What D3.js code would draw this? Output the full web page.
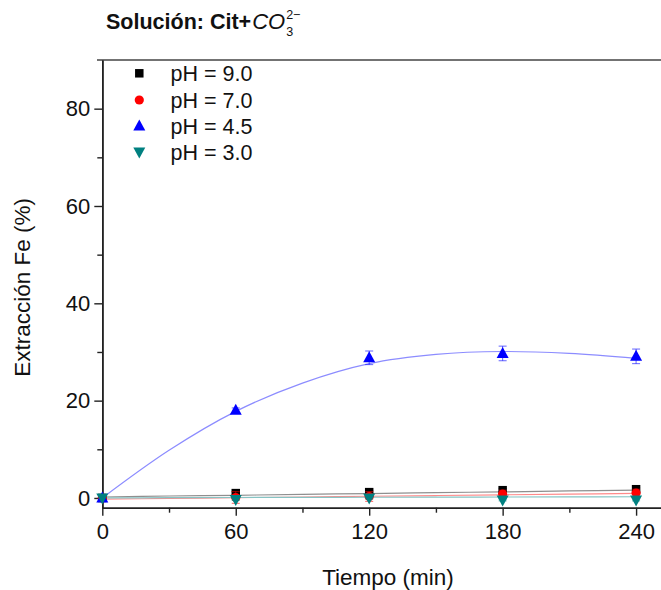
<!DOCTYPE html>
<html>
<head>
<meta charset="utf-8">
<script src="https://cdn.jsdelivr.net/npm/d3@7"></script>
<style>
  html, body { margin: 0; padding: 0; background: #fff; }
  svg { display: block; }
  text { font-family: "Liberation Sans", Arial, sans-serif; }
</style>
</head>
<body>
<div id="chart"></div>
<script>
// ---------- data ----------
const times = [0, 60, 120, 180, 240];
const seriesNames = ["pH = 9.0", "pH = 7.0", "pH = 4.5", "pH = 3.0"];
const ph90 = [0, 1.0, 1.2, 1.6, 1.8];
const ph70 = [0, 0.1, 0.3, 0.8, 1.0];
const ph45 = [0, 18.0, 28.8, 29.7, 29.1];
const ph30 = [0, -0.3, 0.0, -0.4, -0.4];
const err90 = [0, 0.3, 0.3, 0.3, 0.3];
const err70 = [0, 1.2, 1.0, 0.8, 0.8];
const err45 = [0, 0.5, 1.4, 1.5, 1.5];
const err30 = [0, 0.2, 0.2, 0.2, 0.2];
// fitted curves
const fitTimes = [0, 30, 60, 90, 120, 150, 180, 210, 240];
const fit90 = [0.2, 0.4, 0.55, 0.75, 0.9, 1.1, 1.25, 1.45, 1.6];
const fit70 = [-0.25, -0.1, 0.05, 0.2, 0.35, 0.5, 0.65, 0.8, 0.95];
const fit45 = [0, 9.8, 17.8, 23.6, 27.6, 29.5, 30.1, 29.7, 28.7];
const fit30 = [0, 0.05, 0.1, 0.12, 0.15, 0.18, 0.2, 0.22, 0.25];
const xTicks = [0, 60, 120, 180, 240];
const xMinor = [30, 90, 150, 210];
const yTicks = [0, 20, 40, 60, 80];
const yMinor = [10, 30, 50, 70];

// ---------- layout ----------
const W = 661, H = 590;
const svg = d3.select("#chart").append("svg").attr("width", W).attr("height", H);

const x = d3.scaleLinear().domain([0, 251.2]).range([102.3, 661]);
const y = d3.scaleLinear().domain([-2, 90]).range([507.7, 60]);

const series = [
  {name: seriesNames[0], vals: ph90, err: err90, fit: fit90, color: "#000000", fitColor: "#8f8f8f", shape: "square"},
  {name: seriesNames[1], vals: ph70, err: err70, fit: fit70, color: "#ff0000", fitColor: "#ff8a8a", shape: "circle"},
  {name: seriesNames[2], vals: ph45, err: err45, fit: fit45, color: "#0000ff", fitColor: "#8c8cff", shape: "triUp"},
  {name: seriesNames[3], vals: ph30, err: err30, fit: fit30, color: "#008080", fitColor: "#86c4c4", shape: "triDown"}
];

function symbolPath(shape) {
  if (shape === "square") return d3.symbol().type(d3.symbolSquare).size(72)();
  if (shape === "circle") return d3.symbol().type(d3.symbolCircle).size(66)();
  if (shape === "triUp") return "M0,-6.5L6,4.5L-6,4.5Z";
  return "M0,6.5L6,-4.5L-6,-4.5Z";
}

// ---------- top frame line ----------
svg.append("line").attr("x1", 97).attr("x2", W).attr("y1", 60).attr("y2", 60)
  .attr("stroke", "#444").attr("stroke-width", 1.6);

// ---------- fit lines ----------
const line = d3.line().x((d, i) => x(fitTimes[i])).y(d => y(d)).curve(d3.curveCatmullRom);
series.forEach(s => {
  svg.append("path").attr("d", line(s.fit)).attr("fill", "none")
    .attr("stroke", s.fitColor).attr("stroke-width", 1.2);
});

// ---------- axes ----------
svg.append("g").attr("transform", `translate(0,${y.range()[0]})`)
  .call(d3.axisBottom(x).tickValues(xTicks).tickSize(8).tickPadding(8).tickSizeOuter(0));
svg.append("g").attr("transform", `translate(0,${y.range()[0]})`)
  .call(d3.axisBottom(x).tickValues(xMinor).tickSize(5).tickFormat("").tickSizeOuter(0));
svg.append("g").attr("transform", `translate(${x(0)},0)`)
  .call(d3.axisLeft(y).tickValues(yTicks).tickSize(8).tickPadding(4).tickSizeOuter(0));
svg.append("g").attr("transform", `translate(${x(0)},0)`)
  .call(d3.axisLeft(y).tickValues(yMinor).tickSize(5).tickFormat("").tickSizeOuter(0));
svg.selectAll(".domain").attr("stroke", "#222").attr("stroke-width", 1.6);
svg.selectAll(".tick line").attr("stroke", "#222").attr("stroke-width", 1.4);
svg.selectAll(".tick text").attr("font-size", 22).attr("fill", "#111")
  .attr("font-family", "Liberation Sans, Arial, sans-serif");

// ---------- error bars & markers ----------
series.forEach(s => {
  const g = svg.append("g");
  s.vals.forEach((v, i) => {
    const e = s.err[i];
    if (e > 0) {
      const cx = x(times[i]);
      g.append("line").attr("x1", cx).attr("x2", cx).attr("y1", y(v - e)).attr("y2", y(v + e))
        .attr("stroke", s.color).attr("stroke-width", 1).attr("opacity", 0.6);
      [v - e, v + e].forEach(b => g.append("line").attr("x1", cx - 4).attr("x2", cx + 4)
        .attr("y1", y(b)).attr("y2", y(b)).attr("stroke", s.color).attr("stroke-width", 1).attr("opacity", 0.6));
    }
  });
  g.selectAll("path.m").data(s.vals).enter().append("path").attr("class", "m")
    .attr("d", symbolPath(s.shape))
    .attr("transform", (d, i) => `translate(${x(times[i])},${y(d)})`)
    .attr("fill", s.color);
});

// ---------- legend ----------
const legY = [73.3, 100, 126, 152];
series.forEach((s, i) => {
  svg.append("path").attr("d", symbolPath(s.shape))
    .attr("transform", `translate(139.3,${legY[i]})`).attr("fill", s.color);
  svg.append("text").attr("x", 170.5).attr("y", legY[i]).attr("dy", "0.36em")
    .attr("font-size", 21.5).attr("fill", "#111").text(s.name);
});

// ---------- axis titles ----------
svg.append("text").attr("x", 388).attr("y", 585).attr("text-anchor", "middle")
  .attr("font-size", 22.5).attr("fill", "#111").text("Tiempo (min)");
svg.append("text").attr("transform", `translate(30,${y(40) - 16}) rotate(-90)`)
  .attr("text-anchor", "middle").attr("font-size", 22.5).attr("fill", "#111").text("Extracción Fe (%)");

// ---------- title ----------
const title = svg.append("text").attr("x", 106).attr("y", 29).attr("font-size", 21.5)
  .attr("font-weight", "bold").attr("fill", "#111").text("Solución: Cit+");
const tw = title.node().getComputedTextLength();
const co = svg.append("text").attr("x", 106 + tw + 1).attr("y", 29).attr("font-size", 22)
  .attr("font-style", "italic").attr("font-family", "DejaVu Serif, Liberation Serif, serif")
  .attr("fill", "#111").text("CO");
const cw = co.node().getComputedTextLength();
svg.append("text").attr("x", 106 + tw + 2 + cw).attr("y", 19).attr("font-size", 12.5)
  .attr("font-family", "DejaVu Serif, Liberation Serif, serif").attr("fill", "#111").text("2−");
svg.append("text").attr("x", 106 + tw + 2 + cw).attr("y", 36).attr("font-size", 12.5)
  .attr("font-family", "DejaVu Serif, Liberation Serif, serif").attr("fill", "#111").text("3");
</script>
</body>
</html>
